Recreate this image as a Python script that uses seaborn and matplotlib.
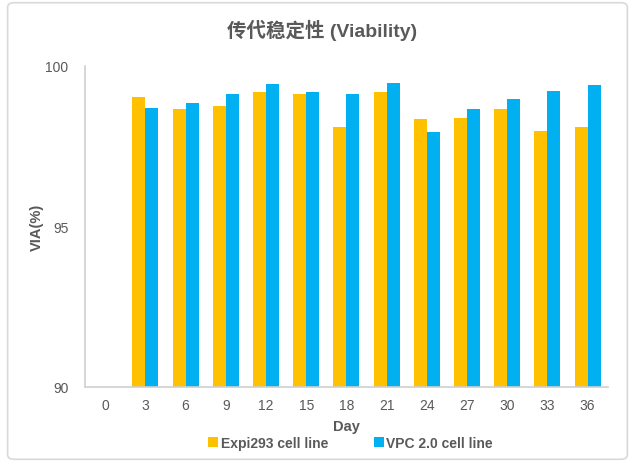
import numpy as np
import pandas as pd
import seaborn as sns
import matplotlib.pyplot as plt
from matplotlib.patches import FancyBboxPatch

# data
days = ['0', '3', '6', '9', '12', '15', '18', '21', '24', '27', '30', '33', '36']
expi293 = [np.nan, 99.03, 98.67, 98.75, 99.17, 99.11, 98.10, 99.19, 98.35, 98.38, 98.67, 97.96, 98.08]
vpc20 = [np.nan, 98.68, 98.85, 99.12, 99.42, 99.19, 99.12, 99.47, 97.95, 98.64, 98.98, 99.21, 99.41]
series_names = ['Expi293 cell line', 'VPC 2.0 cell line']
colors = ['#FFC000', '#00B0F0']

df = pd.DataFrame({'Day': days * 2,
                   'VIA': expi293 + vpc20,
                   'line': [series_names[0]] * len(days) + [series_names[1]] * len(days)})

sns.set_style('white')
plt.rcParams['font.family'] = ['Liberation Sans', 'Noto Sans CJK SC', 'DejaVu Sans']

fig = plt.figure(figsize=(6.35, 4.64), dpi=100)
ax = fig.add_axes([0.134, 0.164, 0.823, 0.692])

sns.barplot(data=df, x='Day', y='VIA', hue='line', order=days, hue_order=series_names,
            palette=colors, width=0.65, gap=0, saturation=1, ax=ax, legend=True,
            edgecolor='none')

ax.set_ylim(90, 100)
ax.set_yticks([90, 95, 100])
ax.tick_params(axis='y', length=0, labelsize=10, labelcolor='#595959', pad=12)
ax.tick_params(axis='x', length=0, labelsize=10, labelcolor='#595959', pad=8)
for s in ['top', 'right']:
    ax.spines[s].set_visible(False)
for s in ['left', 'bottom']:
    ax.spines[s].set_color('#D0D0D0')
    ax.spines[s].set_linewidth(1.2)

ax.set_xlabel('Day', fontsize=10.5, fontweight='bold', color='#595959', labelpad=5)
ax.set_ylabel('VIA(%)', fontsize=10.5, fontweight='bold', color='#595959', labelpad=1)
fig.suptitle('传代稳定性 (Viability)', x=0.507, y=0.935, va='center',
             fontsize=14, fontweight='bold', color='#595959')

handles, labels = ax.get_legend_handles_labels()
ax.get_legend().remove()
leg = fig.legend(handles, labels, loc='center', bbox_to_anchor=(0.552, 0.043), ncol=2,
                 frameon=False, handlelength=0.7, handleheight=0.7, handletextpad=0.2,
                 columnspacing=3.3, prop={'size': 10, 'weight': 'bold'})
for t in leg.get_texts():
    t.set_color('#595959')

border = FancyBboxPatch((0.012, 0.008), 0.976, 0.984, boxstyle='round,pad=0,rounding_size=0.01',
                        transform=fig.transFigure, facecolor='none', edgecolor='#D9D9D9',
                        linewidth=1.2)
fig.patches.append(border)

fig.savefig('out.png', dpi=100)
